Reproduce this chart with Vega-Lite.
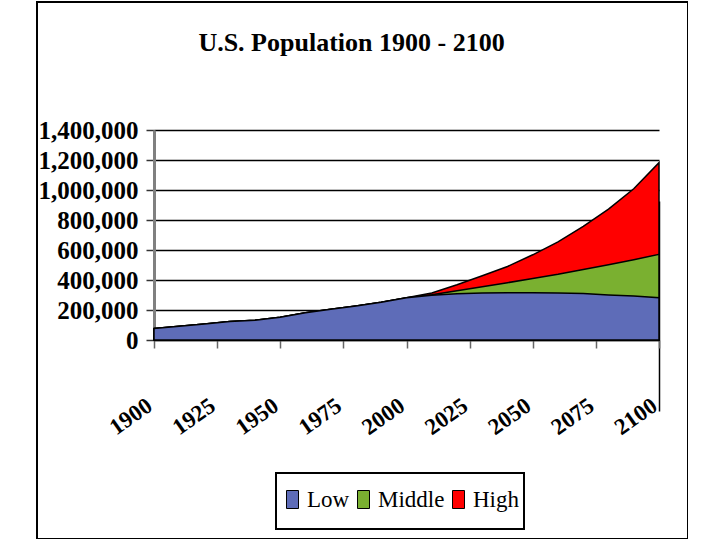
{
  "$schema": "https://vega.github.io/schema/vega-lite/v6.json",
  "width": 651,
  "height": 537,
  "autosize": {"type": "none"},
  "padding": {"left": 37, "top": 2, "right": 0, "bottom": 0},
  "background": "white",
  "title": {
    "text": "U.S. Population 1900 - 2100",
    "font": "Liberation Serif",
    "fontSize": 26,
    "fontWeight": "bold",
    "color": "black",
    "anchor": "middle",
    "frame": "group",
    "baseline": "alphabetic",
    "offset": -75,
    "dx": -11
  },
  "data": {
    "values": [
      {"year": 1900, "series": "Low", "value": 76000},
      {"year": 1910, "series": "Low", "value": 92000},
      {"year": 1920, "series": "Low", "value": 106000},
      {"year": 1930, "series": "Low", "value": 123000},
      {"year": 1940, "series": "Low", "value": 132000},
      {"year": 1950, "series": "Low", "value": 152000},
      {"year": 1960, "series": "Low", "value": 181000},
      {"year": 1970, "series": "Low", "value": 205000},
      {"year": 1980, "series": "Low", "value": 227000},
      {"year": 1990, "series": "Low", "value": 252000},
      {"year": 2000, "series": "Low", "value": 282000},
      {"year": 2010, "series": "Low", "value": 298000},
      {"year": 2020, "series": "Low", "value": 308000},
      {"year": 2030, "series": "Low", "value": 313000},
      {"year": 2040, "series": "Low", "value": 315000},
      {"year": 2050, "series": "Low", "value": 315000},
      {"year": 2060, "series": "Low", "value": 313000},
      {"year": 2070, "series": "Low", "value": 310000},
      {"year": 2080, "series": "Low", "value": 300000},
      {"year": 2090, "series": "Low", "value": 293000},
      {"year": 2100, "series": "Low", "value": 282000},
      {"year": 1900, "series": "Middle", "value": 76000},
      {"year": 1910, "series": "Middle", "value": 92000},
      {"year": 1920, "series": "Middle", "value": 106000},
      {"year": 1930, "series": "Middle", "value": 123000},
      {"year": 1940, "series": "Middle", "value": 132000},
      {"year": 1950, "series": "Middle", "value": 152000},
      {"year": 1960, "series": "Middle", "value": 181000},
      {"year": 1970, "series": "Middle", "value": 205000},
      {"year": 1980, "series": "Middle", "value": 227000},
      {"year": 1990, "series": "Middle", "value": 252000},
      {"year": 2000, "series": "Middle", "value": 282000},
      {"year": 2010, "series": "Middle", "value": 302000},
      {"year": 2020, "series": "Middle", "value": 328000},
      {"year": 2030, "series": "Middle", "value": 355000},
      {"year": 2040, "series": "Middle", "value": 382000},
      {"year": 2050, "series": "Middle", "value": 410000},
      {"year": 2060, "series": "Middle", "value": 438000},
      {"year": 2070, "series": "Middle", "value": 470000},
      {"year": 2080, "series": "Middle", "value": 502000},
      {"year": 2090, "series": "Middle", "value": 535000},
      {"year": 2100, "series": "Middle", "value": 571000},
      {"year": 1900, "series": "High", "value": 76000},
      {"year": 1910, "series": "High", "value": 92000},
      {"year": 1920, "series": "High", "value": 106000},
      {"year": 1930, "series": "High", "value": 123000},
      {"year": 1940, "series": "High", "value": 132000},
      {"year": 1950, "series": "High", "value": 152000},
      {"year": 1960, "series": "High", "value": 181000},
      {"year": 1970, "series": "High", "value": 205000},
      {"year": 1980, "series": "High", "value": 227000},
      {"year": 1990, "series": "High", "value": 252000},
      {"year": 2000, "series": "High", "value": 282000},
      {"year": 2010, "series": "High", "value": 314000},
      {"year": 2020, "series": "High", "value": 368000},
      {"year": 2030, "series": "High", "value": 428000},
      {"year": 2040, "series": "High", "value": 490000},
      {"year": 2050, "series": "High", "value": 568000},
      {"year": 2060, "series": "High", "value": 654000},
      {"year": 2070, "series": "High", "value": 758000},
      {"year": 2080, "series": "High", "value": 872000},
      {"year": 2090, "series": "High", "value": 1008000},
      {"year": 2100, "series": "High", "value": 1182000}
    ]
  },
  "encoding": {
    "x": {
      "field": "year",
      "type": "quantitative",
      "scale": {"domain": [1900, 2100], "range": [117, 622], "nice": false, "zero": false},
      "axis": {
        "orient": "bottom",
        "offset": -199,
        "title": null,
        "values": [1900, 1925, 1950, 1975, 2000, 2025, 2050, 2075, 2100],
        "format": "d",
        "labelAngle": -35,
        "labelAlign": "right",
        "labelBaseline": "top",
        "labelOffset": -11,
        "labelFont": "Liberation Serif",
        "labelFontSize": 23,
        "labelFontWeight": "bold",
        "labelColor": "black",
        "labelPadding": 46,
        "labelOverlap": false,
        "labelFlush": false,
        "domainColor": "#333333",
        "domainWidth": 1.5,
        "tickColor": "#666666",
        "tickWidth": 1.5,
        "tickSize": 8,
        "grid": true,
        "gridColor": "black",
        "gridWidth": 1.5,
        "gridOpacity": {"condition": {"test": "datum.value == 2100", "value": 1}, "value": 0}
      }
    },
    "y": {
      "field": "value",
      "type": "quantitative",
      "stack": null,
      "scale": {"domain": [0, 1400000], "range": [338, 128], "nice": false},
      "axis": {
        "orient": "left",
        "offset": -117,
        "title": null,
        "values": [0, 200000, 400000, 600000, 800000, 1000000, 1200000, 1400000],
        "format": ",d",
        "labelFont": "Liberation Serif",
        "labelFontSize": 25,
        "labelFontWeight": "bold",
        "labelColor": "black",
        "labelPadding": 8,
        "domainColor": "#808080",
        "domainWidth": 3,
        "tickColor": "#333333",
        "tickWidth": 1.5,
        "tickSize": 8,
        "grid": true,
        "gridColor": "black",
        "gridWidth": 1.5
      }
    },
    "color": {
      "field": "series",
      "type": "nominal",
      "scale": {"domain": ["Low", "Middle", "High"], "range": ["#5e6cb8", "#7ab030", "#ff0000"]},
      "legend": {
        "orient": "none",
        "legendX": 239,
        "legendY": 471,
        "direction": "horizontal",
        "title": " ",
        "titleFontSize": 8,
        "titlePadding": 2,
        "symbolType": "M-1,-1.5L1,-1.5L1,1.5L-1,1.5ZM0,3.75",
        "symbolSize": 144
      }
    }
  },
  "layer": [
    {
      "transform": [{"filter": "datum.series == 'High'"}],
      "mark": {"type": "area", "stroke": "black", "strokeWidth": 1.5, "opacity": 1}
    },
    {
      "transform": [{"filter": "datum.series == 'Middle'"}],
      "mark": {"type": "area", "stroke": "black", "strokeWidth": 1.5, "opacity": 1}
    },
    {
      "transform": [{"filter": "datum.series == 'Low'"}],
      "mark": {"type": "area", "stroke": "black", "strokeWidth": 1.5, "opacity": 1}
    }
  ],
  "config": {
    "view": {"stroke": "black", "strokeWidth": 2},
    "legend": {
      "symbolType": "M-1,-1.5L1,-1.5L1,1.5L-1,1.5ZM0,3.75",
      "symbolSize": 144,
      "symbolStrokeColor": "black",
      "symbolStrokeWidth": 1,
      "symbolOpacity": 1,
      "labelFont": "Liberation Serif",
      "labelFontSize": 23,
      "labelColor": "black",
      "labelOffset": 3,
      "columnPadding": 2,
      "strokeColor": "black",
      "strokeWidth": 2,
      "fillColor": "white",
      "padding": 5
    }
  }
}
